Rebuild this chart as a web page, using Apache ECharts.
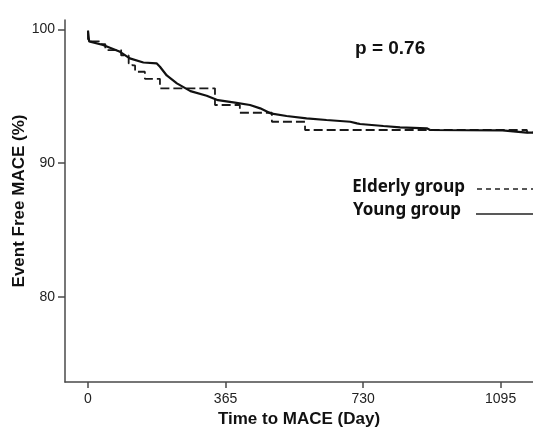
<!DOCTYPE html>
<html lang="en">
<head>
<meta charset="UTF-8">
<title>Event Free MACE</title>
<script src="https://cdn.jsdelivr.net/npm/echarts@6/dist/echarts.min.js"></script>
<style>
  html, body { margin: 0; padding: 0; background: #fff; }
  #main { width: 533px; height: 432px; }
</style>
</head>
<body>
<div id="main"></div>
<script type="text/javascript">
// Kaplan-Meier style curves
var youngDays = [0, 3, 40, 85, 111, 147, 182, 191, 209, 236, 272, 315, 345, 390, 430, 457, 484, 527, 580, 633, 696, 714, 722, 784, 828, 899, 908, 1100, 1105, 1164, 1181];
var youngSurv = [99.9, 99.1, 98.83, 98.32, 97.83, 97.52, 97.46, 97.2, 96.55, 95.96, 95.38, 95.03, 94.7, 94.52, 94.34, 94.09, 93.72, 93.52, 93.34, 93.22, 93.09, 92.97, 92.92, 92.77, 92.67, 92.6, 92.47, 92.45, 92.34, 92.27, 92.27];

var elderlyDays = [0, 0, 30, 46, 88, 108, 118, 125, 151, 191, 337, 403, 488, 576, 1165, 1181];
var elderlySurv = [99.9, 99.1, 98.9, 98.45, 98.05, 97.45, 97.3, 96.83, 96.3, 95.59, 94.34, 93.76, 93.09, 92.47, 92.3, 92.3];

var xTicks = [0, 365, 730, 1095];
var yTicks = [80, 90, 100];
var seriesNames = ['Elderly group', 'Young group'];
var pText = 'p = 0.76';

function pairs(xs, ys) {
  var out = [];
  for (var i = 0; i < xs.length; i++) out.push([xs[i], ys[i]]);
  return out;
}

var myChart = echarts.init(document.getElementById('main'));
var axisCol = '#4a4a4a';
var option = {
  animation: false,
  grid: { left: 65, right: 0, top: 20, bottom: 50, outerBoundsMode: 'none' },
  xAxis: {
    type: 'value',
    min: -61, max: 1181,
    name: 'Time to MACE (Day)',
    nameLocation: 'middle',
    nameGap: 29,
    nameMoveOverlap: false,
    nameTextStyle: { fontFamily: 'Liberation Sans', fontWeight: 'bold', fontSize: 17, color: '#111' },
    axisLine: { onZero: false, lineStyle: { color: axisCol, width: 1.5 } },
    axisTick: { customValues: xTicks, length: 6, lineStyle: { color: axisCol, width: 1.5 } },
    axisLabel: { customValues: xTicks, margin: 10, fontFamily: 'Liberation Sans', fontSize: 14, color: '#222',
      formatter: function (v) { return String(v); } },
    splitLine: { show: false }
  },
  yAxis: {
    type: 'value',
    min: 73.62, max: 100.7,
    name: 'Event Free MACE (%)',
    nameLocation: 'middle',
    nameGap: 37,
    nameMoveOverlap: false,
    nameTextStyle: { fontFamily: 'Liberation Sans', fontWeight: 'bold', fontSize: 17, color: '#111' },
    axisLine: { show: true, onZero: false, lineStyle: { color: axisCol, width: 1.5 } },
    axisTick: { show: true, customValues: yTicks, length: 7, lineStyle: { color: axisCol, width: 1.5 } },
    axisLabel: { customValues: yTicks, margin: 10, fontFamily: 'Liberation Sans', fontSize: 14, color: '#222' },
    splitLine: { show: false }
  },
  series: [
    {
      name: seriesNames[0],
      type: 'line',
      step: 'end',
      showSymbol: false,
      data: pairs(elderlyDays, elderlySurv),
      lineStyle: { color: '#1a1a1a', width: 1.8, type: [9, 4] },
      z: 2
    },
    {
      name: seriesNames[1],
      type: 'line',
      showSymbol: false,
      data: pairs(youngDays, youngSurv),
      lineStyle: { color: '#111', width: 2.2 },
      z: 3
    }
  ],
  graphic: [
    { type: 'text', left: 355, top: 39, style: { text: pText, font: 'bold 19px "Liberation Sans"', fill: '#111' } },
    { type: 'text', right: 533 - 465, top: 179, style: { text: seriesNames[0], font: 'bold 17px "Noto Sans"', fill: '#111' } },
    { type: 'text', right: 533 - 461, top: 202, style: { text: seriesNames[1], font: 'bold 17px "Noto Sans"', fill: '#111' } },
    { type: 'line', shape: { x1: 477, y1: 189, x2: 533, y2: 189 }, style: { stroke: '#222', lineWidth: 1.3, lineDash: [5, 4] } },
    { type: 'line', shape: { x1: 476, y1: 214, x2: 533, y2: 214 }, style: { stroke: '#222', lineWidth: 1.5 } }
  ]
};
myChart.setOption(option);
</script>
</body>
</html>
